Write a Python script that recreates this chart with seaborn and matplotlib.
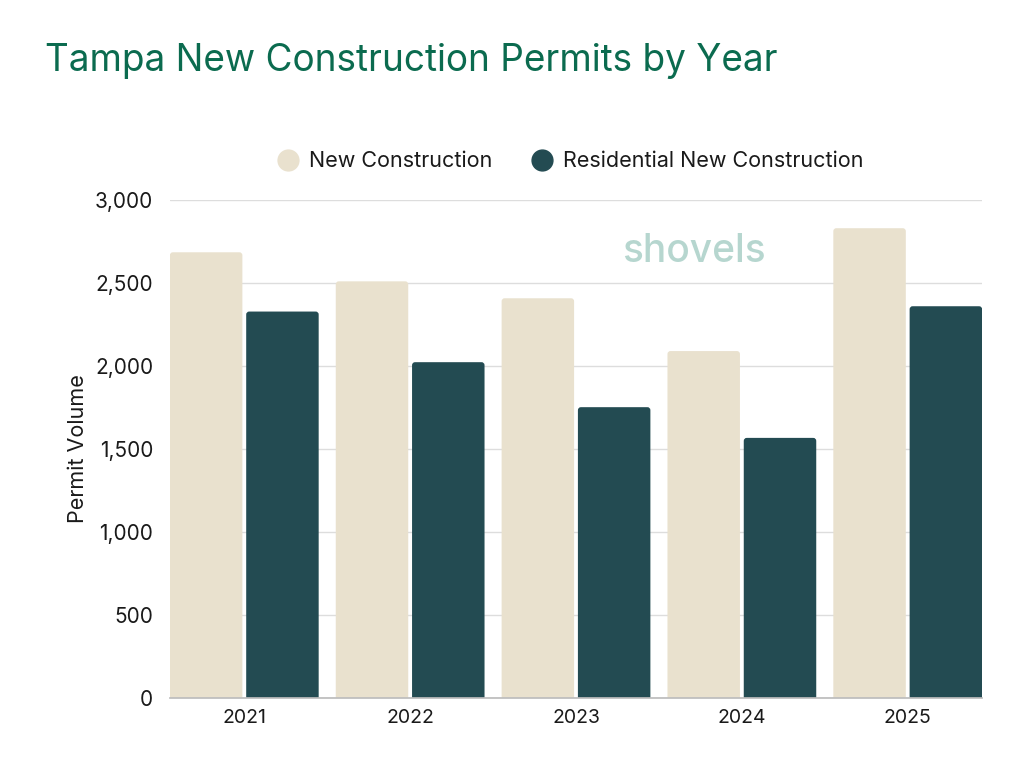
import matplotlib

matplotlib.use("Agg")
import matplotlib.pyplot as plt
import pandas as pd
import seaborn as sns
from matplotlib.lines import Line2D
from matplotlib.patches import FancyBboxPatch
from matplotlib.ticker import FuncFormatter

# values
years = ["2021", "2022", "2023", "2024", "2025"]
new_construction = [2685, 2510, 2408, 2090, 2830]
residential_new = [2328, 2023, 1752, 1567, 2360]
series_names = ["New Construction", "Residential New Construction"]
series_colors = ["#e9e1ce", "#234b52"]

FONT = ["Inter", "DejaVu Sans"]


def build_frame() -> pd.DataFrame:
    rows = []
    for name, values in zip(series_names, [new_construction, residential_new]):
        for year, value in zip(years, values):
            rows.append({"year": year, "series": name, "permits": value})
    return pd.DataFrame(rows)


def round_bar_corners(ax, radius_px: float = 3.0) -> None:
    # swap seaborn's rectangles for boxes with rounded tops
    bbox = ax.get_window_extent()
    x0, x1 = ax.get_xlim()
    y0, y1 = ax.get_ylim()
    px_per_x = bbox.width / (x1 - x0)
    px_per_y = bbox.height / (y1 - y0)
    radius = radius_px / px_per_x
    aspect = px_per_x / px_per_y
    drop = 2 * radius_px / px_per_y  # push the bottom corners below the axis
    for patch in list(ax.patches):
        x, y = patch.get_x(), patch.get_y()
        w, h = patch.get_width(), patch.get_height()
        color = patch.get_facecolor()
        patch.remove()
        ax.add_patch(
            FancyBboxPatch(
                (x, y - drop), w, h + drop,
                boxstyle=f"round,pad=0,rounding_size={radius}",
                mutation_aspect=aspect,
                facecolor=color, edgecolor="none", zorder=2,
            )
        )


def main() -> None:
    sns.set_theme(style="white")
    plt.rcParams["font.family"] = FONT

    df = build_frame()

    fig = plt.figure(figsize=(10.24, 7.68), dpi=100)
    ax = fig.add_axes([0.166, 0.0911, 0.793, 0.6485])

    sns.barplot(
        data=df,
        x="year",
        y="permits",
        hue="series",
        hue_order=series_names,
        palette=series_colors,
        width=0.92,
        gap=0.05,
        saturation=1,
        legend=False,
        ax=ax,
    )

    ax.set_ylim(0, 3000)
    ax.set_xlim(-0.448, len(years) - 1 + 0.448)
    ax.set_yticks([0, 500, 1000, 1500, 2000, 2500, 3000])
    ax.yaxis.set_major_formatter(FuncFormatter(lambda v, _: f"{int(v):,}"))
    ax.grid(axis="y", color="#dddddd", linewidth=1)
    ax.set_axisbelow(True)
    for side in ["top", "right", "left"]:
        ax.spines[side].set_visible(False)
    ax.spines["bottom"].set_color("#bdbdbd")
    ax.spines["bottom"].set_zorder(3)
    ax.tick_params(axis="y", length=0, labelsize=15, colors="#1a1a1a", pad=12)
    ax.tick_params(axis="x", length=0, labelsize=14, colors="#1a1a1a", pad=8)
    ax.set_xlabel("")
    ax.set_ylabel("Permit Volume", fontsize=15.5, color="#1a1a1a", labelpad=5)

    round_bar_corners(ax)

    fig.text(
        0.044, 0.921, "Tampa New Construction Permits by Year",
        fontsize=26.6, color="#0b6b4f", ha="left", va="center",
    )

    handles = [
        Line2D([], [], marker="o", linestyle="", markersize=15,
               markerfacecolor=c, markeredgecolor=c)
        for c in series_colors
    ]
    fig.legend(
        handles, series_names, loc="center", bbox_to_anchor=(0.557, 0.790),
        ncol=2, frameon=False, fontsize=15.5, handlelength=1.0,
        handletextpad=0.5, columnspacing=1.8, labelcolor="#1a1a1a",
    )

    # watermark
    fig.text(0.678, 0.672, "shovels", fontsize=28, fontweight="medium",
             color="#b6d6cf", ha="center", va="center")

    fig.savefig("out.png", dpi=100)
    plt.close(fig)


if __name__ == "__main__":
    main()
